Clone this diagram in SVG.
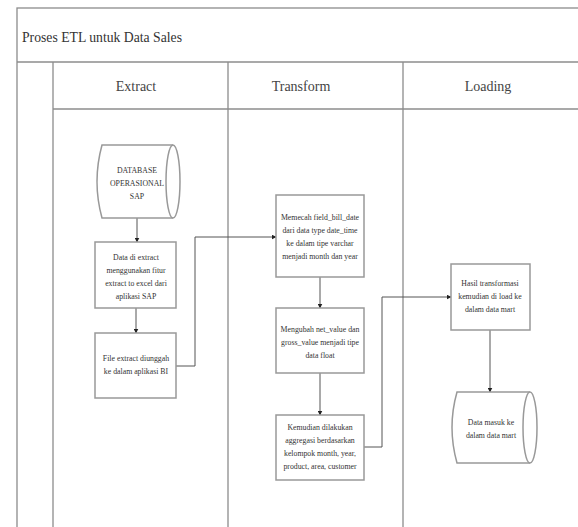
<svg xmlns="http://www.w3.org/2000/svg" width="578" height="527" viewBox="0 0 578 527">
  <style>
    .frame { fill: none; stroke: #8c8c8c; stroke-width: 1.3; }
    .node { fill: #ffffff; stroke: #999999; stroke-width: 1.5; }
    .conn { fill: none; stroke: #555555; stroke-width: 1; }
    .title { font-family: "Liberation Serif", "Times New Roman", serif; font-size: 14px; fill: #333333; }
    .head { font-family: "Liberation Serif", "Times New Roman", serif; font-size: 14px; fill: #444444; text-anchor: middle; }
    .lbl { font-family: "Liberation Serif", "Times New Roman", serif; font-size: 7.8px; fill: #333333; text-anchor: middle; }
  </style>
  <defs>
    <marker id="arrow" viewBox="0 0 10 10" refX="9" refY="5" markerWidth="5" markerHeight="5" orient="auto" markerUnits="userSpaceOnUse">
      <path d="M0,0 L10,5 L0,10 z" fill="#222222"/>
    </marker>
  </defs>

  <rect width="578" height="527" fill="#ffffff"/>

  <!-- pool frame with title band, lane headers and lane dividers -->
  <g id="pool">
    <rect class="frame" x="17" y="8" width="580" height="540"/>
    <line class="frame" x1="17" y1="62" x2="578" y2="62"/>
    <line class="frame" x1="53" y1="62" x2="53" y2="527"/>
    <line class="frame" x1="53" y1="109" x2="578" y2="109"/>
    <line class="frame" x1="228" y1="62" x2="228" y2="527"/>
    <line class="frame" x1="403" y1="62" x2="403" y2="527"/>
    <text class="title" x="22" y="42" textLength="160" lengthAdjust="spacingAndGlyphs">Proses ETL untuk Data Sales</text>
    <text class="head" x="136" y="91">Extract</text>
    <text class="head" x="301" y="91">Transform</text>
    <text class="head" x="488" y="91">Loading</text>
  </g>

  <!-- connectors -->
  <g id="connectors">
    <line class="conn" x1="137" y1="218" x2="137" y2="242" marker-end="url(#arrow)"/>
    <line class="conn" x1="136" y1="308" x2="136" y2="333" marker-end="url(#arrow)"/>
    <polyline class="conn" points="176,366 195,366 195,237 276,237" marker-end="url(#arrow)"/>
    <line class="conn" x1="320" y1="277" x2="320" y2="308" marker-end="url(#arrow)"/>
    <line class="conn" x1="320" y1="373" x2="320" y2="415" marker-end="url(#arrow)"/>
    <polyline class="conn" points="364,447 382,447 382,297 451,297" marker-end="url(#arrow)"/>
    <line class="conn" x1="490" y1="330" x2="490" y2="392" marker-end="url(#arrow)"/>
  </g>

  <!-- Extract lane -->
  <g id="db-sap">
    <path class="node" d="M102,145 L173,145 A7,36.5 0 0 1 173,218 L102,218 Q92,181.5 102,145 Z"/>
    <path class="node" d="M173,145 A7,36.5 0 0 0 173,218"/>
    <text class="lbl" x="137" y="173">DATABASE</text>
    <text class="lbl" x="137" y="186">OPERASIONAL</text>
    <text class="lbl" x="137" y="199">SAP</text>
  </g>

  <g id="extract-data">
    <rect class="node" x="95" y="242" width="81" height="66"/>
    <text class="lbl" x="136" y="260">Data di extract</text>
    <text class="lbl" x="136" y="273">menggunakan fitur</text>
    <text class="lbl" x="136" y="286">extract to excel dari</text>
    <text class="lbl" x="136" y="299">aplikasi SAP</text>
  </g>

  <g id="upload-file">
    <rect class="node" x="95" y="333" width="81" height="65"/>
    <text class="lbl" x="136" y="361">File extract diunggah</text>
    <text class="lbl" x="136" y="374">ke dalam aplikasi BI</text>
  </g>

  <!-- Transform lane -->
  <g id="split-date">
    <rect class="node" x="276" y="195" width="88" height="82"/>
    <text class="lbl" x="320" y="220">Memecah field_bill_date</text>
    <text class="lbl" x="320" y="233">dari data type date_time</text>
    <text class="lbl" x="320" y="246">ke dalam tipe varchar</text>
    <text class="lbl" x="320" y="259">menjadi month dan year</text>
  </g>

  <g id="convert-float">
    <rect class="node" x="276" y="308" width="88" height="65"/>
    <text class="lbl" x="320" y="332">Mengubah net_value dan</text>
    <text class="lbl" x="320" y="345">gross_value menjadi tipe</text>
    <text class="lbl" x="320" y="358">data float</text>
  </g>

  <g id="aggregate">
    <rect class="node" x="276" y="415" width="88" height="65"/>
    <text class="lbl" x="320" y="430">Kemudian dilakukan</text>
    <text class="lbl" x="320" y="443">aggregasi berdasarkan</text>
    <text class="lbl" x="320" y="456">kelompok month, year,</text>
    <text class="lbl" x="320" y="469">product, area, customer</text>
  </g>

  <!-- Loading lane -->
  <g id="load-result">
    <rect class="node" x="451" y="264" width="79" height="66"/>
    <text class="lbl" x="490" y="286">Hasil transformasi</text>
    <text class="lbl" x="490" y="299">kemudian di load ke</text>
    <text class="lbl" x="490" y="312">dalam data mart</text>
  </g>

  <g id="data-mart">
    <path class="node" d="M457,392 L530,392 A7,35.5 0 0 1 530,463 L457,463 Q447,427.5 457,392 Z"/>
    <path class="node" d="M530,392 A7,35.5 0 0 0 530,463"/>
    <text class="lbl" x="491" y="425">Data masuk ke</text>
    <text class="lbl" x="491" y="438">dalam data mart</text>
  </g>
</svg>
